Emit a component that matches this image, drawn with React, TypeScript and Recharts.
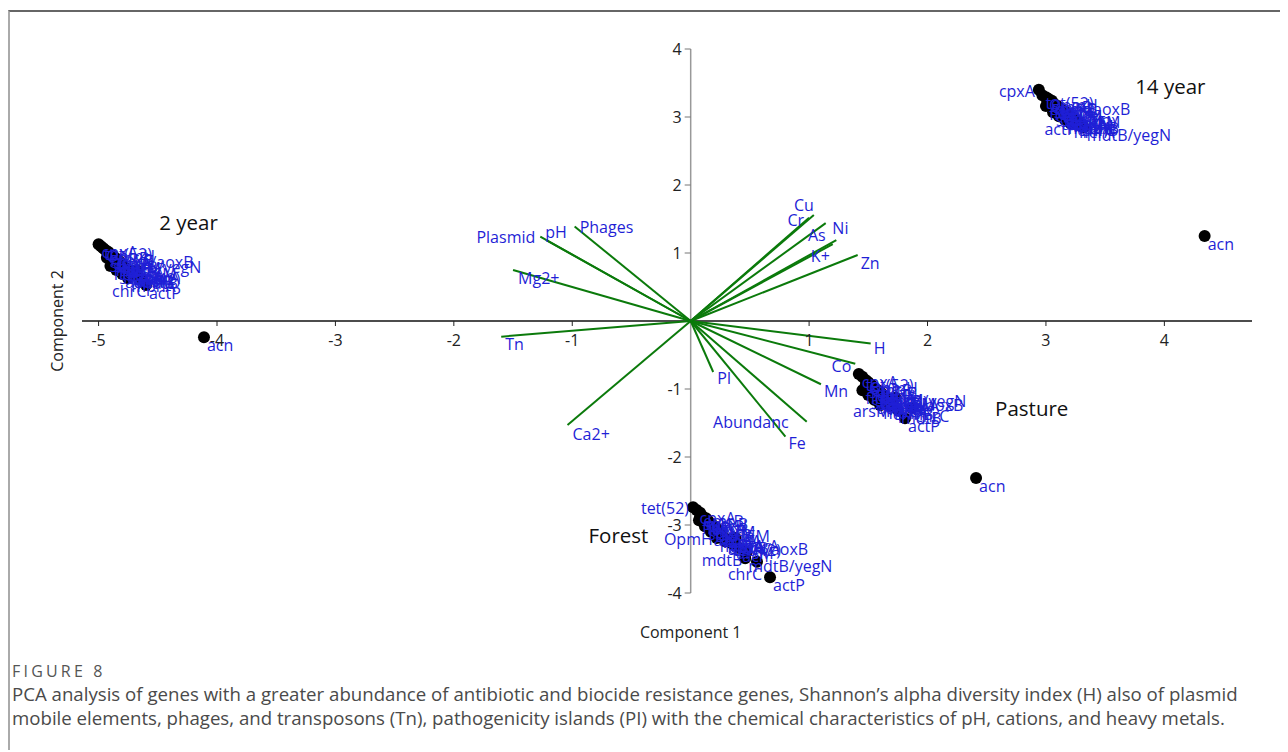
import React from "react";
import { ScatterChart, Scatter, XAxis, YAxis, ReferenceLine } from "recharts";

// gene names, shared by the four sample groups
const GENES = [
  "cpxA", "tet(52)", "OpmH", "emrB", "mexB", "aoxA/aoxB", "qacH", "bcrA", "oprM", "acrB",
  "arsB", "copA", "czcA", "tet(42)", "arsM", "mdtB", "mdtB/yegN", "chrC", "actP", "acn",
  "sul1", "intI1", "blaTEM", "vanA", "ermB", "floR", "strA", "aadA", "mphA", "merA",
];

// scores per group (Component 1 / Component 2)
const X_2YR = [
  -5.0, -4.98, -4.96, -4.94, -4.92, -4.9, -4.88, -4.86, -4.84, -4.82, -4.8, -4.78, -4.76, -4.74, -4.71,
  -4.7, -4.87, -4.64, -4.6, -4.11, -4.93, -4.88, -4.83, -4.78, -4.73, -4.9, -4.85, -4.8, -4.75, -4.68,
];
const Y_2YR = [
  1.13, 1.1, 1.07, 1.04, 1.02, 0.99, 0.96, 0.93, 0.9, 0.87, 0.84, 0.79, 0.77, 0.74, 0.71,
  0.68, 0.91, 0.62, 0.53, -0.24, 0.93, 0.87, 0.81, 0.75, 0.69, 0.81, 0.75, 0.69, 0.63, 0.75,
];
const X_14YR = [
  2.94, 2.97, 3.0, 3.02, 3.05, 3.01, 3.07, 3.1, 3.11, 3.14, 3.17, 3.18, 3.21, 3.16, 3.23,
  3.25, 3.32, 3.27, 3.29, 4.34, 3.04, 3.09, 3.14, 3.19, 3.24, 3.0, 3.06, 3.11, 3.16, 3.21,
];
const Y_14YR = [
  3.4, 3.32, 3.29, 3.27, 3.24, 3.24, 3.19, 3.16, 3.13, 3.1, 3.07, 3.04, 3.01, 3.03, 2.99,
  2.96, 2.85, 2.93, 2.88, 1.25, 3.19, 3.13, 3.04, 2.99, 2.93, 3.16, 3.07, 3.01, 2.96, 2.9,
];
const X_PAST = [
  1.42, 1.45, 1.48, 1.5, 1.53, 1.6, 1.55, 1.58, 1.6, 1.63, 1.65, 1.68, 1.69, 1.57, 1.72,
  1.75, 1.59, 1.87, 1.81, 2.41, 1.48, 1.53, 1.58, 1.63, 1.68, 1.45, 1.5, 1.55, 1.6, 1.73,
];
const Y_PAST = [
  -0.78, -0.82, -0.87, -0.9, -0.94, -1.12, -0.99, -1.02, -1.04, -1.09, -1.13, -1.18, -1.21, -1.07, -1.27,
  -1.31, -1.06, -1.28, -1.43, -2.31, -0.93, -1.02, -1.1, -1.18, -1.25, -1.02, -1.09, -1.16, -1.24, -1.13,
];
const X_FOR = [
  0.05, 0.02, 0.22, 0.08, 0.1, 0.29, 0.13, 0.15, 0.18, 0.21, 0.23, 0.26, 0.31, 0.33, 0.36,
  0.47, 0.46, 0.56, 0.67, 0.41, 0.08, 0.13, 0.18, 0.23, 0.29, 0.07, 0.12, 0.17, 0.22, 0.38,
];
const Y_FOR = [
  -2.78, -2.74, -3.1, -2.82, -2.87, -3.24, -2.9, -2.94, -2.99, -3.03, -3.07, -3.12, -3.21, -3.25, -3.29,
  -3.4, -3.49, -3.54, -3.77, -3.34, -2.87, -2.96, -3.04, -3.13, -3.22, -2.93, -3.02, -3.1, -3.19, -3.19,
];

// loadings of the variables
const VARS = ["Plasmid", "pH", "Phages", "Mg2+", "Tn", "Ca2+", "PI", "Abundanc", "Fe", "Mn", "Co", "H", "Zn", "K+", "Ni", "As", "Cr", "Cu"];
const VAR_X = [-1.27, -1.22, -0.98, -1.5, -1.6, -1.04, 0.19, 0.98, 0.8, 1.1, 1.39, 1.52, 1.41, 1.2, 1.23, 1.14, 1.0, 1.04];
const VAR_Y = [1.24, 1.19, 1.39, 0.75, -0.23, -1.53, -0.75, -1.48, -1.7, -0.93, -0.63, -0.33, 0.97, 1.13, 1.19, 1.44, 1.52, 1.56];

const GROUPS = ["2 year", "14 year", "Pasture", "Forest"];
const GROUP_X = [-4.24, 4.05, 2.88, -0.61];
const GROUP_Y = [1.46, 3.46, -1.28, -3.15];

const X_TICKS = [-5, -4, -3, -2, -1, 1, 2, 3, 4];
const Y_TICKS = [-4, -3, -2, -1, 1, 2, 3, 4];

// layout
const W = 1270;
const H = 630;
const PLOT = { top: 37, right: 28, bottom: 49, left: 72 };
const AX_H = 30;
const AX_W = 30;
const MARGIN = { top: PLOT.top, right: PLOT.right, bottom: PLOT.bottom - AX_H, left: PLOT.left - AX_W };
const X_DOMAIN = [-5.14, 4.74];
const Y_DOMAIN = [-4, 4];
const PW = W - PLOT.left - PLOT.right;
const PH = H - PLOT.top - PLOT.bottom;
const ZERO_X = PLOT.left + (PW * (0 - X_DOMAIN[0])) / (X_DOMAIN[1] - X_DOMAIN[0]);
const ZERO_Y = PLOT.top + (PH * (Y_DOMAIN[1] - 0)) / (Y_DOMAIN[1] - Y_DOMAIN[0]);

const FONT = "'Open Sans', 'Noto Sans', sans-serif";
const BLUE = "#1f1fd6";
const GREEN = "#0b7a0b";
const LABEL_SIZE = 16;

type Nudge = [number, number, "start" | "end" | "middle"];
const DEFAULT_NUDGE: Nudge = [3, 14, "start"];

// label placement tweaks (offset from point, baseline, anchor)
const NUDGE_2YR: Record<string, Nudge> = { chrC: [5, 18, "end"] };
const NUDGE_14YR: Record<string, Nudge> = { cpxA: [-4, 7, "end"], actP: [-4, 10, "end"] };
const NUDGE_PAST: Record<string, Nudge> = { arsM: [-4, 10, "end"] };
const NUDGE_FOR: Record<string, Nudge> = {
  "tet(52)": [-4, 7, "end"],
  OpmH: [-4, 13, "end"],
  mdtB: [-4, 14, "end"],
  chrC: [5, 18, "end"],
};
const NUDGE_VARS: Record<string, Nudge> = {
  Plasmid: [-5, 6, "end"],
  pH: [-1, -2, "start"],
  Phages: [5, 7, "start"],
  "Mg2+": [5, 14, "start"],
  Tn: [4, 13, "start"],
  "Ca2+": [5, 15, "start"],
  PI: [4, 12, "start"],
  Abundanc: [-18, 6, "end"],
  Fe: [3, 12, "start"],
  Mn: [3, 13, "start"],
  Co: [-4, 8, "end"],
  H: [3, 11, "start"],
  Zn: [3, 14, "start"],
  "K+": [-3, 18, "end"],
  Ni: [-4, -6, "start"],
  As: [0, 18, "end"],
  Cr: [-5, 8, "end"],
  Cu: [0, -4, "end"],
};

const toPoints = (xs: number[], ys: number[], names: string[]) =>
  names.map((name, i) => ({ name, x: xs[i], y: ys[i] }));

const cluster2 = toPoints(X_2YR, Y_2YR, GENES);
const cluster14 = toPoints(X_14YR, Y_14YR, GENES);
const clusterPast = toPoints(X_PAST, Y_PAST, GENES);
const clusterFor = toPoints(X_FOR, Y_FOR, GENES);
const varPoints = toPoints(VAR_X, VAR_Y, VARS);
const groupPoints = toPoints(GROUP_X, GROUP_Y, GROUPS);

const dot = (p: any) => <circle cx={p.cx} cy={p.cy} r={6} fill="#000" />;

const label = (nudges: Record<string, Nudge>) => (p: any) => {
  const [dx, dy, anchor] = nudges[p.payload.name] ?? DEFAULT_NUDGE;
  return (
    <text x={p.cx + dx} y={p.cy + dy} textAnchor={anchor} fill={BLUE} fontSize={LABEL_SIZE} fontFamily={FONT}>
      {p.payload.name}
    </text>
  );
};

const groupTitle = (p: any) => (
  <text x={p.cx} y={p.cy} textAnchor="middle" dominantBaseline="central" fill="#111" fontSize={20.5} fontFamily={FONT}>
    {p.payload.name}
  </text>
);

const XTick = (p: any) => (
  <g>
    <line x1={p.x} x2={p.x} y1={ZERO_Y} y2={ZERO_Y + 5} stroke="#222" />
    <text x={p.x} y={ZERO_Y + 25} textAnchor="middle" fill="#222" fontSize={16} fontFamily={FONT}>
      {p.payload.value}
    </text>
  </g>
);

const YTick = (p: any) => (
  <g>
    <line x1={ZERO_X - 6} x2={ZERO_X} y1={p.y} y2={p.y} stroke="#777" />
    <text x={ZERO_X - 9} y={p.y} dy="0.35em" textAnchor="end" fill="#222" fontSize={16} fontFamily={FONT}>
      {p.payload.value}
    </text>
  </g>
);

const XTitle = () => (
  <text x={ZERO_X} y={PLOT.top + PH + 45} textAnchor="middle" fill="#222" fontSize={16} fontFamily={FONT}>
    Component 1
  </text>
);

const YTitle = () => {
  const cx = PLOT.left - 25;
  const cy = PLOT.top + PH / 2;
  return (
    <text
      x={cx}
      y={cy}
      transform={`rotate(-90 ${cx} ${cy})`}
      textAnchor="middle"
      dominantBaseline="central"
      fill="#222"
      fontSize={16}
      fontFamily={FONT}
    >
      Component 2
    </text>
  );
};

export default function App() {
  return (
    <div
      style={{
        position: "relative",
        top: 2,
        width: 1290,
        height: 742,
        boxSizing: "border-box",
        borderTop: "2px solid #666",
        borderLeft: "2px solid #aaa",
        fontFamily: FONT,
      }}
    >
      <style>{"html,body{overflow:hidden}"}</style>
      <div style={{ position: "absolute", left: 0, top: 0 }}>
        <ScatterChart width={W} height={H} margin={MARGIN}>
          <XAxis
            type="number"
            dataKey="x"
            domain={X_DOMAIN}
            ticks={X_TICKS}
            interval={0}
            allowDataOverflow
            height={AX_H}
            axisLine={false}
            tickLine={false}
            tick={XTick}
            label={<XTitle />}
          />
          <YAxis
            type="number"
            dataKey="y"
            domain={Y_DOMAIN}
            ticks={Y_TICKS}
            interval={0}
            allowDataOverflow
            width={AX_W}
            axisLine={false}
            tickLine={false}
            tick={YTick}
            label={<YTitle />}
          />
          <ReferenceLine y={0} stroke="#111" strokeWidth={1.5} />
          <ReferenceLine x={0} stroke="#999" strokeWidth={1.5} />
          {varPoints.map((v) => (
            <ReferenceLine
              key={v.name}
              segment={[{ x: 0, y: 0 }, { x: v.x, y: v.y }]}
              stroke={GREEN}
              strokeWidth={2}
              ifOverflow="visible"
            />
          ))}
          <Scatter data={cluster2} shape={dot} isAnimationActive={false} />
          <Scatter data={cluster14} shape={dot} isAnimationActive={false} />
          <Scatter data={clusterPast} shape={dot} isAnimationActive={false} />
          <Scatter data={clusterFor} shape={dot} isAnimationActive={false} />
          <Scatter data={cluster2} shape={label(NUDGE_2YR)} isAnimationActive={false} />
          <Scatter data={cluster14} shape={label(NUDGE_14YR)} isAnimationActive={false} />
          <Scatter data={clusterPast} shape={label(NUDGE_PAST)} isAnimationActive={false} />
          <Scatter data={clusterFor} shape={label(NUDGE_FOR)} isAnimationActive={false} />
          <Scatter data={varPoints} shape={label(NUDGE_VARS)} isAnimationActive={false} />
          <Scatter data={groupPoints} shape={groupTitle} isAnimationActive={false} />
        </ScatterChart>
      </div>
      <div
        style={{
          position: "absolute",
          left: 2,
          top: 651,
          fontSize: 16,
          lineHeight: "16px",
          letterSpacing: 3.2,
          color: "#555",
        }}
      >
        FIGURE 8
      </div>
      <div
        style={{
          position: "absolute",
          left: 2,
          top: 670,
          fontSize: 18.65,
          lineHeight: "24px",
          color: "#4a4a4a",
          whiteSpace: "nowrap",
        }}
      >
        PCA analysis of genes with a greater abundance of antibiotic and biocide resistance genes, Shannon’s alpha
        diversity index (H) also of plasmid
        <br />
        mobile elements, phages, and transposons (Tn), pathogenicity islands (PI) with the chemical characteristics of
        pH, cations, and heavy metals.
      </div>
    </div>
  );
}
